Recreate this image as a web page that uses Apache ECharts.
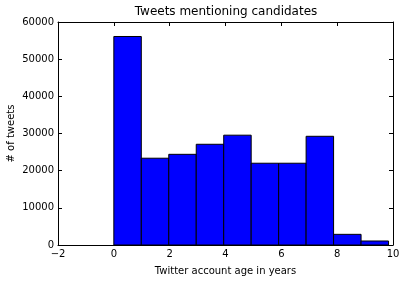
<!DOCTYPE html>
<html><head><meta charset="utf-8">
<script src="https://cdn.jsdelivr.net/npm/echarts@6/dist/echarts.min.js"></script>
<style>html,body{margin:0;padding:0;background:#fff}#c{width:406px;height:281px}</style>
</head><body><div id="c"></div>
<script>
const binEdges = [0, 0.984, 1.968, 2.952, 3.936, 4.92, 5.904, 6.888, 7.872, 8.856, 9.84];
const counts = [56100, 23350, 24400, 27100, 29550, 22000, 22000, 29250, 2870, 1080];
const xTicks = [-2, 0, 2, 4, 6, 8, 10];
const yTicks = [0, 10000, 20000, 30000, 40000, 50000, 60000];

const data = counts.map((v, i) => [binEdges[i], binEdges[i + 1], v]);
const font = 'DejaVu Sans';
const chart = echarts.init(document.getElementById('c'), null, {renderer: 'canvas'});
const axisCommon = {
  axisLine: {show: true, onZero: false, lineStyle: {color: '#000', width: 1}},
  axisTick: {show: true, inside: true, length: 4, lineStyle: {color: '#000'}},
  splitLine: {show: false}
};
chart.setOption({
  animation: false,
  graphic: [{type: 'text', x: 226, y: 6,
    style: {text: 'Tweets mentioning candidates', textAlign: 'center', textVerticalAlign: 'top',
      font: '12px "DejaVu Sans"', fill: '#000'}}],
  grid: {left: 58, right: 13, top: 22, bottom: 36, containLabel: false, outerBoundsMode: 'none'},
  xAxis: [
    Object.assign({type: 'value', min: xTicks[0], max: xTicks[xTicks.length - 1], interval: 2,
      position: 'bottom', name: 'Twitter account age in years', nameLocation: 'middle', nameGap: 21,
      nameMoveOverlap: false,
      nameTextStyle: {fontFamily: font, fontSize: 10, color: '#000'},
      axisLabel: {fontFamily: font, fontSize: 10, color: '#000', margin: 4,
        formatter: v => v < 0 ? '\u2212' + Math.abs(v) : String(v)}}, axisCommon),
    Object.assign({type: 'value', min: xTicks[0], max: xTicks[xTicks.length - 1], interval: 2,
      position: 'top', axisLabel: {show: false}}, axisCommon)
  ],
  yAxis: [
    Object.assign({type: 'value', min: yTicks[0], max: yTicks[yTicks.length - 1], interval: 10000,
      position: 'left', name: '# of tweets', nameLocation: 'middle', nameGap: 42,
      nameMoveOverlap: false,
      nameTextStyle: {fontFamily: font, fontSize: 10, color: '#000'},
      axisLabel: {fontFamily: font, fontSize: 10, color: '#000', margin: 4,
        formatter: v => String(v)}}, axisCommon),
    Object.assign({type: 'value', min: yTicks[0], max: yTicks[yTicks.length - 1], interval: 10000,
      position: 'right', axisLabel: {show: false}}, axisCommon)
  ],
  series: [{
    type: 'custom',
    xAxisIndex: 0, yAxisIndex: 0,
    data: data,
    renderItem: function (params, api) {
      const p0 = api.coord([api.value(0), api.value(2)]);
      const p1 = api.coord([api.value(1), 0]);
      return {
        type: 'rect',
        shape: {x: p0[0], y: p0[1], width: p1[0] - p0[0], height: p1[1] - p0[1]},
        style: {fill: '#0000ff', stroke: '#000', lineWidth: 1}
      };
    }
  }]
});
</script></body></html>
